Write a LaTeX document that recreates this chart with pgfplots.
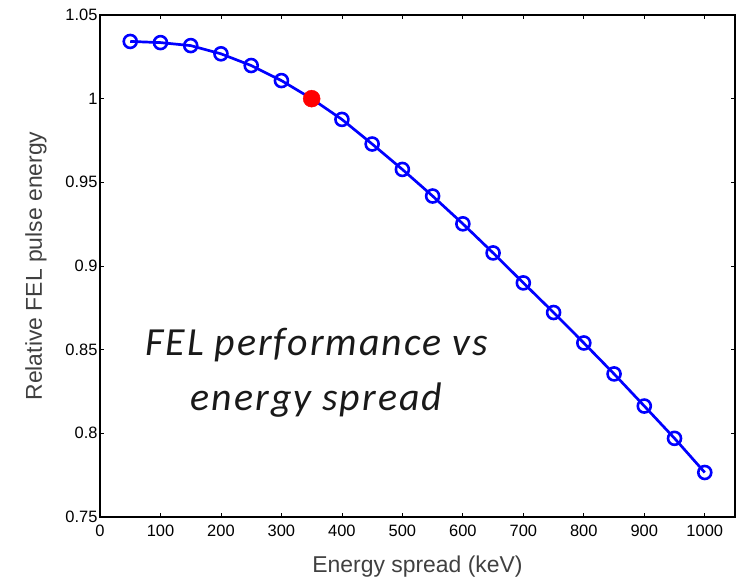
\documentclass[border=0pt]{standalone}
\usepackage{fontspec}
\setmainfont{Liberation Sans}
\newfontfamily\calib[LetterSpace=5]{Carlito}
\usepackage{pgfplots}
\pgfplotsset{compat=1.18}
\begin{document}
\begin{tikzpicture}[x=1bp,y=1bp]
\useasboundingbox (-100,-61) rectangle (637,517);
\begin{axis}[
  at={(0,0)}, anchor=south west,
  scale only axis, width=635bp, height=502bp,
  xmin=0, xmax=1050, ymin=0.75, ymax=1.05,
  xtick={0,100,...,1000},
  ytick={0.75,0.8,...,1.05},
  yticklabels={0.75,0.8,0.85,0.9,0.95,1,1.05},
  xticklabels={0,100,200,300,400,500,600,700,800,900,1000},
  /pgf/number format/assume math mode=true,
  tick align=inside, tick pos=both,
  major tick length=4bp,
  axis line style={line width=1.2bp},
  every tick/.style={black, line width=0.8bp},
  tick label style={font=\fontsize{16.5}{18}\selectfont},
  xticklabel style={yshift=-5bp},
  yticklabel style={xshift=1bp},
  label style={font=\fontsize{23}{25}\selectfont, color=black!75},
  xlabel={Energy spread (keV)},
  ylabel={Relative FEL pulse energy},
  xlabel style={yshift=-12bp},
  ylabel style={yshift=12bp},
  clip=false,
]
\addplot[blue, line width=2.7bp, mark=o, mark size=6.5bp, mark options={line width=2.6bp}] coordinates {
(50,1.0342) (100,1.0335) (150,1.0317) (200,1.0268) (250,1.0198) (300,1.0108)
(350,1.0) (400,0.9876) (450,0.9729) (500,0.9577) (550,0.9418) (600,0.9252)
(650,0.9078) (700,0.8899) (750,0.8722) (800,0.8540) (850,0.8355) (900,0.8163)
(950,0.7970) (1000,0.7766)
};
\addplot[only marks, mark=*, red, mark size=8.5bp] coordinates {(350,1.0)};
\node[align=center, font=\calib\itshape\fontsize{40}{56}\selectfont, color=black!90] at (axis cs:358,0.8362) {FEL performance vs\\energy spread};
\end{axis}
\end{tikzpicture}
\end{document}
